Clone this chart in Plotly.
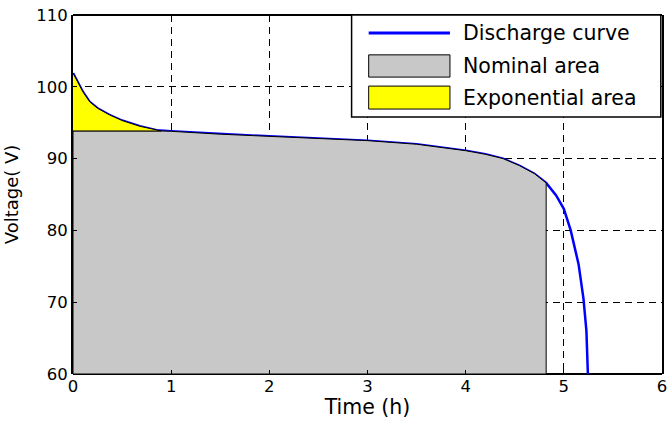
import plotly.graph_objects as go

# Discharge curve
time_h = [0, 0.05, 0.1, 0.17, 0.25, 0.37, 0.5, 0.68, 0.85, 1.0, 1.5, 2.0, 2.5,
          3.0, 3.5, 4.0, 4.2, 4.38, 4.55, 4.7, 4.82, 4.92, 5.0, 5.07, 5.15,
          5.2, 5.23, 5.245]
voltage_v = [101.9, 100.5, 99.3, 97.9, 97.0, 96.1, 95.3, 94.5, 93.95, 93.8,
             93.4, 93.1, 92.8, 92.5, 92.0, 91.1, 90.6, 90.0, 89.0, 87.9, 86.6,
             84.9, 83.0, 80.0, 75.3, 70.5, 66.0, 60.0]

v_nominal = 93.85      # nominal voltage level (top of nominal area)
t_exp_end = 0.9        # end of exponential zone
t_nom_end = 4.82       # end of nominal zone
v_floor = 60           # bottom of axis

x_ticks = [0, 1, 2, 3, 4, 5, 6]
y_ticks = [60, 70, 80, 90, 100, 110]

legend_names = ["Discharge curve", "Nominal area", "Exponential area"]
BLUE, GRAY, YELLOW = "#0000ff", "#c8c8c8", "#ffff00"

FONT = "DejaVu Sans"

# exponential area polygon
exp_x = [t for t in time_h if t <= t_exp_end] + [t_exp_end, 0]
exp_y = [v for t, v in zip(time_h, voltage_v) if t <= t_exp_end] + [v_nominal, v_nominal]

# nominal area polygon
mid = [(t, v) for t, v in zip(time_h, voltage_v) if t_exp_end < t < t_nom_end]
v_at_nom_end = [v for t, v in zip(time_h, voltage_v) if t == t_nom_end][0]
nom_x = [0, 0, t_exp_end] + [p[0] for p in mid] + [t_nom_end, t_nom_end, 0]
nom_y = [v_floor, v_nominal, v_nominal] + [p[1] for p in mid] + [v_at_nom_end, v_floor, v_floor]

fig = go.Figure()
fig.add_trace(go.Scatter(x=time_h, y=voltage_v, mode="lines", name=legend_names[0],
                         line=dict(color=BLUE, width=2.5), showlegend=False))
fig.add_trace(go.Scatter(x=nom_x, y=nom_y, mode="lines", fill="toself", name=legend_names[1],
                         fillcolor=GRAY, line=dict(color="black", width=1), showlegend=False))
fig.add_trace(go.Scatter(x=exp_x, y=exp_y, mode="lines", fill="toself", name=legend_names[2],
                         fillcolor=YELLOW, line=dict(color="black", width=1), showlegend=False))

grid = dict(showgrid=True, gridcolor="black", gridwidth=1, griddash="7px,5px")

fig.update_xaxes(range=[0, 6], tickvals=x_ticks, showline=False, zeroline=False,
                 ticks="inside", ticklen=4, tickcolor="black", mirror="ticks",
                 tickfont=dict(family=FONT, size=16.5, color="black"),
                 title=dict(text="Time (h)", font=dict(family=FONT, size=20.5, color="black"),
                            standoff=0),
                 **grid)
fig.update_yaxes(range=[60, 110], tickvals=y_ticks, showline=True, linecolor="black",
                 linewidth=2, mirror=True, zeroline=False,
                 ticks="inside", ticklen=4, tickcolor="black",
                 tickfont=dict(family=FONT, size=16.5, color="black"),
                 title=dict(text="Voltage( V)", font=dict(family=FONT, size=18, color="black"),
                            standoff=13),
                 **grid)

# frame lines top/bottom (bottom one lies under the filled areas)
fig.add_shape(type="line", xref="paper", yref="paper", x0=0, x1=1, y0=0, y1=0,
              line=dict(color="black", width=2), layer="below")
fig.add_shape(type="line", xref="paper", yref="paper", x0=0, x1=1, y0=1, y1=1,
              line=dict(color="black", width=2), layer="above")

# legend box (drawn in paper coordinates, matching the MATLAB-style legend)
P = dict(xref="paper", yref="paper", layer="above")
fig.add_shape(type="rect", x0=0.473, x1=0.998, y0=0.716, y1=1.0,
              fillcolor="white", line=dict(color="black", width=1.5), **P)
fig.add_shape(type="line", x0=0.502, x1=0.640, y0=0.950, y1=0.950,
              line=dict(color=BLUE, width=3), **P)
fig.add_shape(type="rect", x0=0.502, x1=0.640, y0=0.827, y1=0.889,
              fillcolor=GRAY, line=dict(color="black", width=1), **P)
fig.add_shape(type="rect", x0=0.502, x1=0.640, y0=0.738, y1=0.802,
              fillcolor=YELLOW, line=dict(color="black", width=1), **P)
for name, yc in zip(legend_names, [0.950, 0.857, 0.770]):
    fig.add_annotation(text=name, xref="paper", yref="paper", x=0.658, y=yc,
                       xanchor="left", yanchor="middle", showarrow=False,
                       font=dict(family=FONT, size=20.5, color="black"))

fig.update_layout(
    width=672, height=421,
    margin=dict(l=73, r=5, t=15, b=47),
    plot_bgcolor="white", paper_bgcolor="white",
    showlegend=False,
)

fig.write_html("out.html", config={"displayModeBar": False},
               post_script="document.body.style.margin='0';")
